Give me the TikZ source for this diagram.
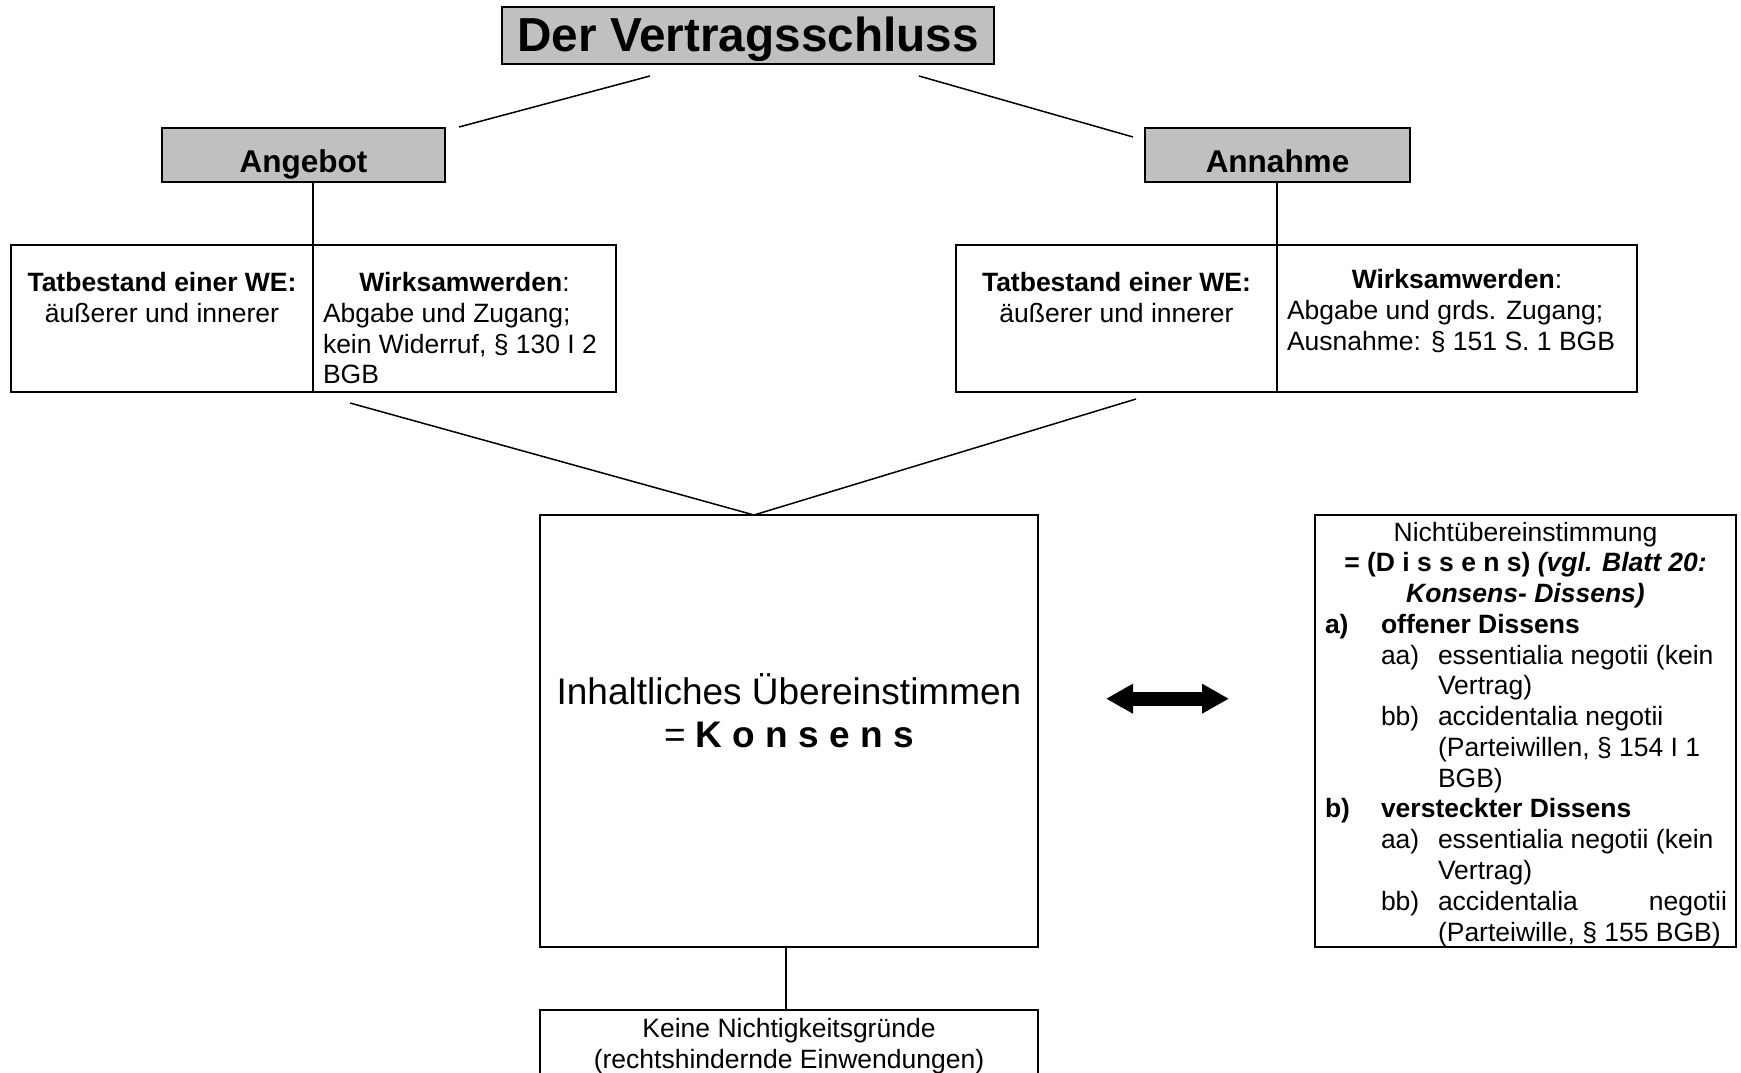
\documentclass[tikz,border=0pt]{standalone}
\usepackage{fontspec}
\setmainfont{Liberation Sans}
\usetikzlibrary{arrows.meta}
\definecolor{boxgray}{HTML}{C0C0C0}
\newcommand\myfn{\fontsize{26.5pt}{30.8pt}\selectfont}
\newcommand\myfbig{\fontsize{37pt}{43pt}\selectfont}
\newcommand\myfmid{\fontsize{31.5pt}{36pt}\selectfont}
\newcommand\myftitle{\fontsize{47.7pt}{52pt}\selectfont}
\begin{document}
\begin{tikzpicture}[x=1pt,y=-1pt,
  box/.style={draw=black, line width=2pt, inner sep=0pt, outer sep=0pt},
  graybox/.style={box, fill=boxgray},
  conn/.style={draw=black, line width=1.5pt},
  txt/.style={inner sep=0pt, outer sep=0pt, anchor=base, font=\myfn},
  txtl/.style={txt, anchor=base west},
  txtr/.style={txt, anchor=base east}]
\useasboundingbox (0,0) rectangle (1741,1073);
\clip (0,0) rectangle (1741,1073);
\fill[white] (0,0) rectangle (1741,1073);

% boxes
\node[graybox, line width=2.5pt, minimum width=492pt, minimum height=57pt] (title) at (748,35.5) {};
\node[graybox, minimum width=283pt, minimum height=54pt] (ang) at (303.5,155) {};
\node[graybox, minimum width=265pt, minimum height=54pt] (ann) at (1277.5,155) {};
\node[box, minimum width=605pt, minimum height=147pt] (lbox) at (313.5,318.5) {};
\node[box, minimum width=681pt, minimum height=147pt] (rbox) at (1296.5,318.5) {};
\node[box, minimum width=498pt, minimum height=432pt] (kons) at (789,731) {};
\node[box, minimum width=421pt, minimum height=432pt] (diss) at (1525.5,731) {};
\node[box, minimum width=498pt, minimum height=120pt] (bot) at (789,1070) {};

% coordinates
\coordinate (c1) at (650,76);
\coordinate (c2) at (459,127);
\coordinate (c3) at (919,76);
\coordinate (c4) at (1133,137);
\coordinate (d1t) at (313,245);
\coordinate (d1b) at (313,392);
\coordinate (d2t) at (1277,245);
\coordinate (d2b) at (1277,392);
\coordinate (c5) at (350,403);
\coordinate (c6) at (1136,399);
\coordinate (apex) at (754,515);
\coordinate (kb1) at (786,947);
\coordinate (kb2) at (786,1010);
\coordinate (arl) at (1106,698.7);
\coordinate (arr) at (1229,698.7);

% connectors
\draw[conn] (c1) -- (c2);
\draw[conn] (c3) -- (c4);
\draw[conn] (ang.south -| d1t) -- (d1t);
\draw[conn] (d1t) -- (d1b);
\draw[conn] (ann.south -| d2t) -- (d2t);
\draw[conn] (d2t) -- (d2b);
\draw[conn] (c5) -- (apex) -- (c6);
\draw[conn] (kb1) -- (kb2);
\draw[line width=14pt, {Triangle[length=27pt,width=28pt]}-{Triangle[length=27pt,width=28pt]}] (arl) -- (arr);

% texts
\node[txt, font=\myftitle\bfseries] (ttitle) at (748,52) {Der Vertragsschluss};
\node[txt, font=\myfmid\bfseries] (tang) at (303.5,172.5) {Angebot};
\node[txt, font=\myfmid\bfseries] (tann) at (1277.5,172.5) {Annahme};

\node[txt] (l1) at (162,291) {\textbf{Tatbestand einer WE:}};
\node[txt] (l2) at (162,322) {äußerer und innerer};
\node[txt] (l3) at (464.5,291) {\textbf{Wirksamwerden}:};
\node[txtl] (l4) at (323,322) {Abgabe und Zugang;};
\node[txtl] (l5) at (323,353) {kein Widerruf, § 130 I 2};
\node[txtl] (l6) at (323,383) {BGB};

\node[txt] (r1) at (1116.5,291) {\textbf{Tatbestand einer WE:}};
\node[txt] (r2) at (1116.5,322) {äußerer und innerer};
\node[txt] (r3) at (1457,288) {\textbf{Wirksamwerden}:};
\node[txtl] (r4) at (1287,319) {Abgabe und grds. Zugang;};
\node[txtl] (r5) at (1287,350) {Ausnahme: § 151 S. 1 BGB};

\node[txt, font=\myfbig] (k1) at (789,704) {Inhaltliches Übereinstimmen};
\node[txt, font=\myfbig] (k2) at (789,747) {= \textbf{K o n s e n s}};

\node[txt] (s0) at (1525.5,541) {Nichtübereinstimmung};
\node[txt] (s1) at (1525.5,571.8) {\textbf{= (D i s s e n s) \textit{(vgl. Blatt 20:}}};
\node[txt] (s2) at (1525.5,602.5) {\textbf{\textit{Konsens- Dissens)}}};
\node[txtl] (s3a) at (1325,633.3) {\textbf{a)}};
\node[txtl] (s3b) at (1381,633.3) {\textbf{offener Dissens}};
\node[txtl] (s4a) at (1381,664.1) {aa)};
\node[txtl] (s4b) at (1438,664.1) {essentialia negotii (kein};
\node[txtl] (s5) at (1438,694.9) {Vertrag)};
\node[txtl] (s6a) at (1381,725.6) {bb)};
\node[txtl] (s6b) at (1438,725.6) {accidentalia negotii};
\node[txtl] (s7) at (1438,756.4) {(Parteiwillen, § 154 I 1};
\node[txtl] (s8) at (1438,787.2) {BGB)};
\node[txtl] (s9a) at (1325,817.9) {\textbf{b)}};
\node[txtl] (s9b) at (1381,817.9) {\textbf{versteckter Dissens}};
\node[txtl] (s10a) at (1381,848.7) {aa)};
\node[txtl] (s10b) at (1438,848.7) {essentialia negotii (kein};
\node[txtl] (s11) at (1438,879.5) {Vertrag)};
\node[txtl] (s12a) at (1381,910.2) {bb)};
\node[txtl] (s12b) at (1438,910.2) {accidentalia};
\node[txtr] (s12c) at (1727,910.2) {negotii};
\node[txtl] (s13) at (1438,941) {(Parteiwille, § 155 BGB)};

\node[txt] (b1) at (789,1037) {Keine Nichtigkeitsgründe};
\node[txt] (b2) at (789,1068) {(rechtshindernde Einwendungen)};
\end{tikzpicture}
\end{document}
